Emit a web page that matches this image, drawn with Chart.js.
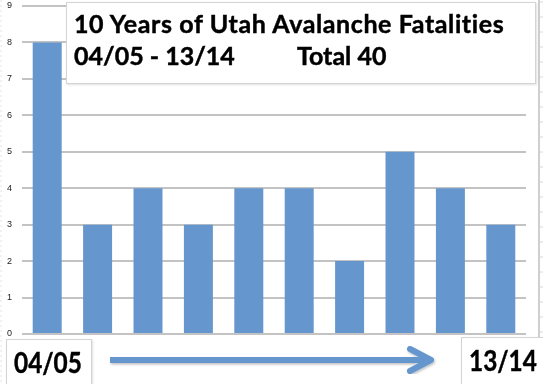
<!DOCTYPE html>
<html><head><meta charset="utf-8">
<script src="https://cdn.jsdelivr.net/npm/chart.js@4"></script>
<style>
html,body{margin:0;padding:0;background:#fff;}
#wrap{position:relative;width:543px;height:384px;overflow:hidden;}
canvas{position:absolute;left:0;top:0;}
.box{position:absolute;background:#fff;border:1px solid #d4d4d4;box-shadow:1px 1px 2px rgba(0,0,0,0.12);font-family:Lato,"Open Sans",sans-serif;font-weight:bold;color:#000;white-space:pre;-webkit-text-stroke:0.45px #000;}
.t{position:absolute;font-size:25px;line-height:30px;}
.b{position:absolute;font-size:29px;line-height:34px;transform:scaleX(0.84);transform-origin:0 0;}
</style></head>
<body><div id="wrap"><canvas id="c" width="543" height="384"></canvas>
<svg style="position:absolute;left:0;top:0;" width="543" height="384" id="deco">
<line x1="539" y1="0" x2="539" y2="384" stroke="#cfcfcf" stroke-width="2"/>
<line x1="1" y1="0" x2="1" y2="384" stroke="#e4e4e4" stroke-width="1" stroke-dasharray="2,3"/>
</svg>
<div class="box" id="title" style="left:66px;top:2px;width:468px;height:80px;">
<div class="t" style="left:7px;top:5px;letter-spacing:0.6px;" id="t1"></div>
<div class="t" style="left:7px;top:37px;" id="t2"></div>
<div class="t" style="left:230px;top:37px;" id="t3"></div>
</div>
<div class="box" id="lb" style="left:6px;top:339px;width:84px;height:60px;"><div class="b" id="l1" style="left:7px;top:5px;"></div></div>
<div class="box" id="rb" style="left:461px;top:337px;width:90px;height:60px;"><div class="b" id="l2" style="left:7px;top:5px;"></div></div>
<svg style="position:absolute;left:0;top:0;" width="543" height="384">
<defs><filter id="sh"><feDropShadow dx="1" dy="1.5" stdDeviation="1" flood-color="#000" flood-opacity="0.25"/></filter></defs>
<g filter="url(#sh)" stroke="#6596cd" fill="none" stroke-linecap="round" stroke-linejoin="round">
<line x1="110" y1="360" x2="430" y2="360" stroke-width="6" stroke-linecap="butt"/>
<polyline points="410,349 431,360 410,371" stroke-width="6"/>
</g></svg>
</div>
<script>
const categories = ["04/05","05/06","06/07","07/08","08/09","09/10","10/11","11/12","12/13","13/14"];
const fatalities = [8,3,4,3,4,4,2,5,4,3];
const yTicks = [0,1,2,3,4,5,6,7,8,9];
const titleLine1 = "10 Years of Utah Avalanche Fatalities";
const titleLine2 = "04/05 - 13/14";
const titleTotal = "Total 40";
const firstLabel = "04/05";
const lastLabel = "13/14";
document.getElementById('t1').textContent = titleLine1;
document.getElementById('t2').textContent = titleLine2;
document.getElementById('t3').textContent = titleTotal;
document.getElementById('l1').textContent = firstLabel;
document.getElementById('l2').textContent = lastLabel;
// decorative ruler ticks at right edge
(function(){
  const svg = document.getElementById('deco');
  for (let y = 2; y < 384; y += 15) {
    const l = document.createElementNS('http://www.w3.org/2000/svg','line');
    l.setAttribute('x1',540); l.setAttribute('x2',543); l.setAttribute('y1',y); l.setAttribute('y2',y);
    l.setAttribute('stroke','#d8d8d8'); l.setAttribute('stroke-width',1);
    svg.appendChild(l);
  }
})();

new Chart(document.getElementById('c'), {
  type: 'bar',
  data: { labels: categories, datasets: [{ data: fatalities, backgroundColor: '#6596cd', borderWidth: 0, barPercentage: 0.575, categoryPercentage: 1 }] },
  options: {
    responsive: false, animation: false,
    layout: { padding: { top: 6, bottom: 50, left: 0, right: 17 } },
    plugins: { legend: { display: false }, tooltip: { enabled: false } },
    scales: {
      x: { display: false },
      y: {
        min: 0, max: 9,
        afterFit: s => { s.width = 22; s.paddingTop = 0; s.paddingBottom = 0; },
        afterBuildTicks: s => { s.ticks = yTicks.map(v => ({ value: v })); },
        grid: { color: '#c3c3c3', lineWidth: 2, drawTicks: false },
        border: { display: false },
        ticks: { padding: 10, color: '#222', font: { size: 9, family: 'Liberation Sans' } }
      }
    }
  }
});
</script></body></html>
